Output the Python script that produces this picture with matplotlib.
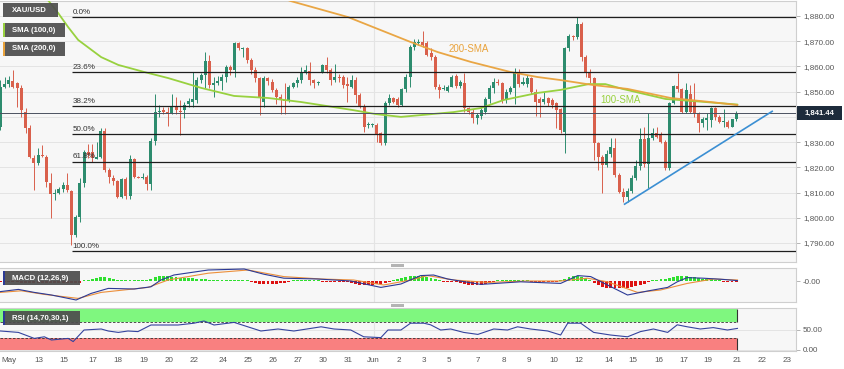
import numpy as np
import matplotlib
matplotlib.use("Agg")
import matplotlib.pyplot as plt
from matplotlib.patches import Rectangle, FancyBboxPatch

plt.rcParams['font.family'] = ['Liberation Sans', 'DejaVu Sans']

# ── 4H XAU/USD candles ──────────────────────────────────────────────────────
open_ = [1836.1, 1852.0, 1852.9, 1854.2, 1853.3, 1851.3, 1842.1, 1835.5, 1823.8, 1821.6, 1825.0, 1824.2, 1813.7, 1809.3, 1810.0, 1811.3, 1813.0, 1810.6, 1793.2, 1800.2, 1813.7, 1826.2, 1826.2, 1823.3, 1824.2, 1834.4, 1818.9, 1815.9, 1814.6, 1808.4, 1815.4, 1808.6, 1823.3, 1816.3, 1815.9, 1816.0, 1813.3, 1830.4, 1842.1, 1842.9, 1842.1, 1841.4, 1844.0, 1842.3, 1842.7,
         1845.0, 1846.0, 1846.7, 1854.6, 1856.6, 1862.2, 1852.6, 1853.3, 1854.2, 1855.9, 1859.9, 1858.6, 1869.2, 1867.0, 1867.4, 1862.6, 1858.6, 1855.3, 1846.0, 1855.3, 1854.0, 1850.7, 1848.0, 1846.7, 1846.7, 1852.0, 1853.3, 1854.6, 1857.9, 1858.2, 1854.6, 1853.5, 1857.9, 1860.6, 1858.6, 1854.6, 1856.0, 1855.9, 1853.0, 1852.0, 1854.6, 1848.7, 1844.1, 1836.6,
         1836.8, 1836.8, 1833.5, 1829.5, 1845.4, 1847.4, 1847.0, 1844.7, 1850.9, 1855.9, 1867.8, 1869.3, 1869.8, 1869.2, 1865.2, 1863.6, 1852.0, 1851.0, 1850.4, 1852.0, 1856.2, 1852.2, 1853.6, 1843.6, 1842.1, 1839.4, 1840.4, 1842.1, 1846.9, 1851.3, 1854.0, 1853.6, 1846.7, 1850.0, 1851.3, 1857.9, 1853.0, 1853.0, 1855.3, 1850.0, 1847.0, 1846.0, 1847.4, 1846.7,
         1845.4, 1843.0, 1834.0, 1867.2, 1872.1, 1871.6, 1876.8, 1863.9, 1857.9, 1855.3, 1829.5, 1824.2, 1820.9, 1825.3, 1827.5, 1816.9, 1810.3, 1808.4, 1810.6, 1815.6, 1820.5, 1831.1, 1821.3, 1831.5, 1833.7, 1832.8, 1830.2, 1819.6, 1845.4, 1852.2, 1850.9, 1842.1, 1849.1, 1846.0, 1841.4, 1837.4, 1838.8, 1838.8, 1843.4, 1840.1, 1838.1, 1838.1, 1836.1, 1839.0]
high = [1854.6, 1855.9, 1856.4, 1858.6, 1854.0, 1852.6, 1843.4, 1836.8, 1824.9, 1827.5, 1828.9, 1824.9, 1817.6, 1811.3, 1812.3, 1814.0, 1817.6, 1811.0, 1801.0, 1815.9, 1826.9, 1829.1, 1829.1, 1829.9, 1835.7, 1835.7, 1819.6, 1816.9, 1815.0, 1815.9, 1816.0, 1824.9, 1823.8, 1816.6, 1817.6, 1817.0, 1831.5, 1848.9, 1844.7, 1844.0, 1844.0, 1848.9, 1848.0, 1846.7, 1846.0,
        1847.4, 1857.9, 1855.9, 1857.3, 1865.6, 1864.5, 1855.9, 1856.2, 1856.9, 1860.6, 1860.6, 1869.6, 1869.8, 1867.8, 1867.8, 1863.2, 1859.9, 1855.9, 1856.2, 1855.9, 1855.0, 1851.3, 1849.1, 1853.4, 1852.6, 1854.0, 1855.9, 1859.9, 1860.6, 1861.9, 1855.0, 1854.4, 1861.0, 1863.9, 1859.5, 1860.8, 1856.9, 1856.6, 1855.9, 1856.6, 1855.9, 1849.3, 1845.0, 1838.0,
        1837.4, 1837.4, 1834.0, 1846.4, 1849.1, 1848.0, 1848.0, 1851.5, 1857.0, 1868.5, 1870.8, 1871.0, 1874.0, 1870.0, 1867.2, 1864.5, 1853.0, 1852.5, 1852.5, 1856.6, 1857.0, 1854.5, 1857.3, 1844.0, 1843.0, 1841.5, 1843.5, 1848.0, 1852.5, 1855.5, 1855.0, 1854.0, 1851.0, 1852.4, 1859.5, 1858.8, 1855.9, 1856.5, 1856.0, 1851.0, 1848.0, 1850.0, 1848.0, 1847.5,
        1846.0, 1843.5, 1867.8, 1873.0, 1872.6, 1879.7, 1877.5, 1864.5, 1859.0, 1856.0, 1830.0, 1824.8, 1827.0, 1831.5, 1831.5, 1817.6, 1811.7, 1811.7, 1816.9, 1822.9, 1835.5, 1836.1, 1841.4, 1835.5, 1836.1, 1834.1, 1830.8, 1846.0, 1852.6, 1857.5, 1851.3, 1853.3, 1852.6, 1853.3, 1842.1, 1840.1, 1841.4, 1844.0, 1844.0, 1840.7, 1843.0, 1838.8, 1839.0, 1842.5]
low = [1834.8, 1851.3, 1852.0, 1851.3, 1844.0, 1840.1, 1833.5, 1823.6, 1811.0, 1820.9, 1824.0, 1812.3, 1799.8, 1807.0, 1809.3, 1810.3, 1810.3, 1789.2, 1792.5, 1798.5, 1812.3, 1823.6, 1822.2, 1823.3, 1823.6, 1818.3, 1813.7, 1813.0, 1807.7, 1807.7, 1807.5, 1807.5, 1815.6, 1815.6, 1815.4, 1811.0, 1811.0, 1828.9, 1840.1, 1841.0, 1836.5, 1841.0, 1841.0, 1832.8, 1839.4,
       1844.0, 1844.1, 1845.4, 1853.6, 1851.3, 1851.3, 1848.0, 1852.6, 1850.5, 1854.0, 1856.6, 1855.9, 1866.7, 1863.9, 1861.2, 1856.9, 1854.0, 1840.7, 1844.1, 1852.6, 1850.0, 1845.0, 1841.0, 1841.0, 1845.8, 1851.6, 1852.0, 1853.6, 1857.0, 1852.6, 1851.3, 1852.6, 1857.5, 1857.5, 1852.6, 1854.0, 1854.0, 1851.3, 1845.8, 1851.3, 1845.4, 1843.4, 1834.1, 1835.5,
       1836.1, 1830.2, 1828.8, 1828.8, 1844.7, 1845.4, 1844.0, 1844.5, 1850.0, 1851.7, 1866.5, 1868.5, 1867.6, 1864.0, 1862.5, 1851.0, 1847.4, 1850.5, 1850.0, 1851.7, 1851.5, 1851.5, 1842.0, 1841.0, 1837.4, 1837.0, 1839.0, 1841.2, 1845.5, 1849.3, 1852.5, 1845.5, 1845.5, 1849.0, 1845.0, 1852.0, 1852.5, 1852.0, 1849.0, 1840.5, 1840.0, 1845.0, 1844.5, 1843.5,
       1835.5, 1833.5, 1825.5, 1866.0, 1870.5, 1871.0, 1862.0, 1856.0, 1853.5, 1822.9, 1818.9, 1809.7, 1820.2, 1824.2, 1816.3, 1809.7, 1806.4, 1806.4, 1809.7, 1815.0, 1818.9, 1820.2, 1811.7, 1830.8, 1831.5, 1829.5, 1818.9, 1818.9, 1845.1, 1850.0, 1841.7, 1841.4, 1841.4, 1840.1, 1834.1, 1836.1, 1834.8, 1836.1, 1838.8, 1837.4, 1836.1, 1835.5, 1836.1, 1838.5]
close = [1852.0, 1852.9, 1854.6, 1852.0, 1851.3, 1842.7, 1835.5, 1824.2, 1821.6, 1824.9, 1824.4, 1814.3, 1809.3, 1810.0, 1811.3, 1813.0, 1811.0, 1793.2, 1800.2, 1813.7, 1826.2, 1825.0, 1823.6, 1824.2, 1834.4, 1818.9, 1816.3, 1814.6, 1808.4, 1815.4, 1808.6, 1823.3, 1816.3, 1815.9, 1816.3, 1813.3, 1830.4, 1842.1, 1842.5, 1842.1, 1841.0, 1844.0, 1842.7, 1841.8, 1844.7,
         1846.3, 1847.0, 1854.6, 1856.6, 1862.2, 1852.6, 1853.3, 1854.2, 1855.9, 1859.9, 1858.6, 1869.2, 1867.2, 1867.4, 1862.6, 1858.6, 1855.3, 1848.0, 1855.3, 1854.4, 1850.7, 1848.0, 1846.7, 1846.3, 1852.0, 1853.3, 1854.6, 1857.9, 1858.6, 1854.6, 1853.3, 1853.6, 1860.6, 1858.6, 1854.6, 1855.7, 1855.3, 1852.6, 1852.4, 1854.6, 1848.7, 1844.1, 1836.1, 1837.0,
         1836.9, 1833.2, 1829.8, 1845.4, 1847.4, 1846.0, 1844.7, 1850.9, 1855.9, 1867.8, 1869.6, 1869.8, 1868.5, 1864.5, 1863.6, 1852.0, 1850.7, 1851.3, 1852.0, 1855.9, 1852.2, 1853.9, 1843.4, 1842.1, 1839.4, 1840.7, 1842.8, 1846.9, 1851.3, 1853.9, 1853.6, 1846.7, 1850.0, 1851.3, 1857.9, 1853.0, 1854.0, 1855.3, 1850.0, 1846.0, 1845.6, 1847.0, 1845.4, 1844.7,
         1842.8, 1834.8, 1867.2, 1872.1, 1871.6, 1876.8, 1863.9, 1857.9, 1855.3, 1829.5, 1824.2, 1820.9, 1825.3, 1827.9, 1816.9, 1810.3, 1808.4, 1810.6, 1815.6, 1820.5, 1831.1, 1821.3, 1831.5, 1833.7, 1832.2, 1830.2, 1819.6, 1845.4, 1852.2, 1850.9, 1842.1, 1850.7, 1842.1, 1841.4, 1837.4, 1839.0, 1839.4, 1843.4, 1840.1, 1838.1, 1838.2, 1836.1, 1839.0, 1841.44]
last_price = 1841.44

# moving averages, sampled at candle positions
sma100_x = [11.0, 13.8, 16.2, 18.6, 24.1, 28.2, 34.4, 40.1, 48.0, 55.9, 64.0, 71.9, 84.3, 89.8, 95.8, 100.5, 108.4, 114.9, 120.4, 128.5, 134.0, 140.7, 144.7, 148.8, 159.1, 168.6, 176.3]
sma100_y = [1887.1, 1881.2, 1875.6, 1870.5, 1863.7, 1860.6, 1857.8, 1855.4, 1851.5, 1848.3, 1847.5, 1845.9, 1842.7, 1841.1, 1840.0, 1840.7, 1841.9, 1843.5, 1846.7, 1849.5, 1850.7, 1853.0, 1853.0, 1851.1, 1847.1, 1845.9, 1844.9]
sma200_x = [62.3, 69.5, 83.1, 98.1, 104.6, 112.5, 122.0, 128.5, 134.0, 141.9, 150.0, 160.3, 169.8, 176.3]
sma200_y = [1890.3, 1885.9, 1879.6, 1869.7, 1865.7, 1861.8, 1857.8, 1855.8, 1854.6, 1852.6, 1851.1, 1847.5, 1845.9, 1844.7]

# Fibonacci retracement of the May low / June high swing
fib_high, fib_low = 1879.7, 1786.8
fib_ratios = [0.0, 0.236, 0.382, 0.5, 0.618, 1.0]
fib_labels = ["0.0%", "23.6%", "38.2%", "50.0%", "61.8%", "100.0%"]
fib_start = 17.2

# rising support line
trend_x = [149.3, 184.6]
trend_y = [1805.4, 1842.2]

# MACD (12,26,9)
macd_x = [0, 4.3, 8.1, 12.2, 18.1, 21.7, 25.8, 32.0, 36.0, 38.4, 41.5, 49.7, 58.3, 63.0, 67.8, 75.9, 83.8, 91.0, 95.8, 100.5, 103.6, 107.0, 114.9, 124.4, 134.0, 138.1, 141.2, 145.2, 150.0, 154.8, 159.6, 161.9, 164.3, 168.1, 172.2, 176.3]
macd_y = [-5.3, -4.2, -5.7, -7.0, -9.5, -6.2, -3.7, -4.0, -2.9, 0.5, 3.0, 5.5, 6.0, 3.4, 1.4, 1.0, 0.0, -3.2, -1.5, 2.7, 3.0, 1.0, -1.7, -0.4, -1.2, 2.7, 2.2, -2.0, -7.0, -5.0, -3.2, -0.4, 1.7, 1.4, 0.9, 0.2]
signal_x = [0, 5.0, 10.5, 18.6, 24.1, 35.3, 40.1, 49.7, 59.2, 67.8, 76.7, 84.5, 91.7, 98.1, 102.2, 108.4, 116.6, 126.1, 134.0, 140.4, 145.2, 152.4, 157.9, 164.3, 170.5, 176.3]
signal_y = [-5.7, -4.9, -6.7, -8.7, -5.7, -3.2, 0.5, 3.9, 5.5, 2.2, 1.0, 0.5, -2.0, 0.5, 2.7, 0.5, -0.7, 0.0, 0.0, 1.4, -0.4, -5.7, -4.5, -1.2, 1.0, 0.5]
hist = [-0.5, -0.5, -0.5, -0.5, -0.5,
        -0.75, -0.75, -0.75, -0.75, -0.75, -0.75, -0.75, -0.75, -0.75, -0.75, -0.75, -0.75, -0.75, -0.75, -0.75,
        0.5, 0.5, 1, 1.5, 2, 2, 1.5, 1,
        0.5, 0.5, 0.5, 0.5, 0.5, 0.5, 0.5, 0.5, 1,
        2, 2.5, 2.5, 2.5, 2, 2,
        1.5, 1.5, 1.5, 1.5, 1, 1, 1, 0.5,
        0.5, 0.5, 0.5, 0.5, 0.5, 0.5, 0.5, 0.5, 0.5,
        -0.5, -1, -1.5, -1.5, -1.5, -1.5, -1.5, -1, -1, -0.5,
        0.3, 0.3, 0.3, 0.3, 0.3, 0.3, 0.3,
        -0.3, -0.3, -0.3, -0.3, -0.3, -0.3,
        -0.5, -1, -1.5, -2, -2, -2, -2, -1.5, -1.5, -1, -0.5,
        0.5, 1, 1.5,
        2, 2.5, 2.5, 2.5, 2.5, 2, 1.5,
        1, 0.5, -0.5,
        -0.5, -0.5, -0.5, -1,
        -1.5, -2, -2, -2, -2, -1.5, -1, -0.5,
        0.3, 0.3, 0.3, 0.3, 0.3, 0.3, 0.3, 0.3,
        -0.3, -0.3, -0.3, -0.3, -0.3, -0.3, -0.3,
        0.5,
        1, 2, 2.5, 2.5, 2, 1.5, 0.5,
        -1, -2, -3, -3.5, -3.5, -3.5, -3.5, -3.5, -3.5, -3, -2.5, -2, -1.5, -0.5,
        0.5, 0.5, 1, 1, 1.5,
        2, 2.5, 2.5, 2.5, 2, 2,
        1.5, 1, 1, 1, 0.5,
        0.3, -0.25, -0.25, -0.3, -0.3]

# RSI (14)
rsi_x = [0, 4.3, 8.1, 10.5, 12.2, 16.2, 17.4, 20.0, 24.1, 25.8, 28.2, 30.5, 32.9, 36.0, 42.5, 46.3, 48.7, 51.1, 55.9, 62.3, 66.4, 70.2, 76.7, 79.8, 83.8, 86.9, 91.0, 92.7, 95.8, 98.1, 101.3, 102.9, 105.3, 107.7, 110.8, 114.2, 118.0, 121.3, 123.7, 126.8, 130.9, 134.0, 135.7, 138.8, 141.9, 145.9, 150.0, 153.1, 156.2, 159.6, 161.9, 164.3, 167.4, 170.5, 173.9, 176.3]
rsi_y = [47.5, 44, 29, 33, 25, 29, 21, 50, 52.5, 47.5, 44, 47.5, 46, 62.5, 62.5, 67, 72.5, 62.5, 69, 47.5, 52.5, 47.5, 58, 52.5, 50, 33, 31, 50, 50, 67, 67, 63, 50, 52.5, 44, 39, 52.5, 50, 58, 52.5, 47.5, 37.5, 67, 67, 44, 37.5, 33, 46, 52.5, 44, 63, 58, 52.5, 56, 50, 54]

date_pos = [2.0, 9.3, 15.3, 22.2, 28.2, 34.4, 40.3, 46.3, 53.2, 59.2, 65.2, 71.2, 77.1, 83.1, 89.3, 95.3, 101.3, 107.2, 114.2, 120.4, 126.3, 132.3, 138.3, 145.5, 151.4, 157.4, 163.4, 169.3, 176.3, 182.2, 188.2]
date_labels = ["May", "13", "15", "17", "18", "19", "20", "22", "24", "25", "26", "27", "30", "31", "Jun",
               "2", "3", "5", "7", "8", "9", "10", "12", "14", "15", "16", "17", "19", "21", "22", "23"]
price_ticks = [1790, 1800, 1810, 1820, 1830, 1840, 1850, 1860, 1870, 1880]
month_line = 89.3

# ── styling ──────────────────────────────────────────────────────────────────
GREEN = '#2d8c6e'
RED = '#d9604c'
BG = '#f7f7f7'
GRID = '#e4e4e4'
SPINE = '#cfcfcf'
TXT = '#555555'
FS = 5.8

W, H = 845, 369
fig = plt.figure(figsize=(W / 100, H / 100), dpi=100, facecolor='white')


def frect(x0, y0, x1, y1):
    """pixel box (top-left origin) -> figure fraction rect"""
    return [x0 / W, 1 - y1 / H, (x1 - x0) / W, (y1 - y0) / H]


ax = fig.add_axes(frect(0, 1, 796, 262))
axm = fig.add_axes(frect(0, 268, 796, 302), sharex=ax)
axr = fig.add_axes(frect(0, 308, 796, 351), sharex=ax)
XMIN, XMAX = -0.1, 190.3

for a in (ax, axm, axr):
    a.set_facecolor(BG)
    for s in a.spines.values():
        s.set_color(SPINE)
        s.set_linewidth(0.8)
    a.spines['left'].set_visible(False)
    a.yaxis.tick_right()
    a.tick_params(axis='y', labelsize=FS, labelcolor=TXT, color='#aaaaaa', length=3, width=0.6, pad=2)
    a.tick_params(axis='x', length=0)
    a.axvline(month_line, color=GRID, lw=0.8, zorder=0)
    a.set_xlim(XMIN, XMAX)

# ── price panel ──────────────────────────────────────────────────────────────
o, h, l, c = map(np.array, (open_, high, low, close))
idx = np.arange(len(c))
up = c >= o
cols = np.where(up, GREEN, RED)
ax.vlines(idx, l, h, colors=cols, lw=0.7, zorder=2)
body_lo = np.minimum(o, c)
body_h = np.maximum(np.abs(c - o), 0.3)
ax.bar(idx, body_h, bottom=body_lo, width=0.72, color=cols, linewidth=0, zorder=2)

ax.plot(sma100_x, sma100_y, color='#98d13f', lw=1.3, zorder=3, solid_capstyle='round')
ax.plot(sma200_x, sma200_y, color='#e9a23b', lw=1.3, alpha=0.95, zorder=3, solid_capstyle='round')

for r, lab in zip(fib_ratios, fib_labels):
    lvl = fib_high - r * (fib_high - fib_low)
    ax.hlines(lvl, fib_start, XMAX, color='#1e1e1e', lw=0.9, zorder=4)
    ax.text(fib_start, lvl + 0.5, lab, fontsize=FS, color='#333333', va='bottom', ha='left', zorder=4)

ax.axhline(last_price, color='#4b5160', lw=0.7, zorder=4)
ax.plot(trend_x, trend_y, color='#3b8fd3', lw=1.2, zorder=5)

ax.text(112.0, 1866.9, "200-SMA", fontsize=7, color='#e9a23b', ha='center', va='center', zorder=5)
ax.text(148.3, 1846.6, "100-SMA", fontsize=7, color='#98d13f', ha='center', va='center', zorder=5)

ax.set_ylim(1782.46, 1885.95)
ax.set_yticks(price_ticks)
# the 1,840 label sits under the last-price tag, so it is left blank
ax.set_yticklabels(["" if v == 1840 else f"{v:,.2f}" for v in price_ticks])
ax.grid(axis='y', color=GRID, lw=0.7, zorder=0)
ax.tick_params(axis='x', labelbottom=False)

# last-price tag on the right axis
tag_y = (1 - (last_price - 1782.46) / (1885.95 - 1782.46)) * (262 - 1) + 1
fig.patches.append(Rectangle((797 / W, 1 - (tag_y + 7) / H), 45 / W, 14 / H,
                             transform=fig.transFigure, fc='#1d2b3b', ec='none', zorder=20))
fig.text(819.5 / W, 1 - tag_y / H, "1,841.44", fontsize=5.6, fontweight='bold', color='white',
         ha='center', va='center', zorder=21)

# ── MACD panel ───────────────────────────────────────────────────────────────
hv = np.array(hist)
axm.bar(np.arange(len(hv)), hv, width=0.7, color=np.where(hv >= 0, '#2fe02f', '#dd1212'), linewidth=0, zorder=2)
axm.plot(signal_x, signal_y, color='#ec8f3a', lw=0.8, zorder=3)
axm.plot(macd_x, macd_y, color='#2c3a96', lw=0.8, zorder=3)
axm.set_ylim(-10.5, 6.5)
axm.set_yticks([0])
axm.set_yticklabels(["-0.00"])
axm.tick_params(axis='x', labelbottom=False)

# ── RSI panel ────────────────────────────────────────────────────────────────
band_end = 176.3
axr.fill_between([XMIN, band_end], 70, 102.5, color='#7ff77f', lw=0, zorder=1)
axr.fill_between([XMIN, band_end], 0, 30, color='#f98080', lw=0, zorder=1)
axr.vlines([band_end, band_end], [0, 70], [30, 102.5], color='#333333', lw=0.8, zorder=2)
axr.hlines([70, 30], XMIN, band_end, colors='#333333', linestyles=(0, (3, 2)), lw=0.6, zorder=2)
axr.plot(rsi_x, rsi_y, color='#34439e', lw=0.8, zorder=3)
axr.set_ylim(-2.5, 105)
axr.set_yticks([0, 50])
axr.set_yticklabels(["0.00", "50.00"])
axr.grid(axis='y', color=GRID, lw=0.7, zorder=0)
axr.set_xticks(date_pos)
axr.set_xticklabels(date_labels)
axr.tick_params(axis='x', labelsize=FS, labelcolor=TXT, pad=4)
axr.set_xlim(XMIN, XMAX)

# ── legend boxes & panel handles (pixel positioned) ─────────────────────────
def label_box(x0, y0, x1, y1, text, stripe=None):
    fig.patches.append(Rectangle((x0 / W, 1 - y1 / H), (x1 - x0) / W, (y1 - y0) / H,
                                 transform=fig.transFigure, fc='#4e4e4e', ec='none', alpha=0.93, zorder=20))
    if stripe:
        fig.patches.append(Rectangle((x0 / W, 1 - y1 / H), 2 / W, (y1 - y0) / H,
                                     transform=fig.transFigure, fc=stripe, ec='none', zorder=21))
    fig.text((x0 + 9) / W, 1 - (y0 + y1) / 2 / H, text, fontsize=5.6, fontweight='bold',
             color='white', va='center', ha='left', zorder=22)


label_box(3, 3, 58, 17, "XAU/USD")
label_box(3, 23, 65, 37, "SMA (100,0)", '#98d13f')
label_box(3, 42, 65, 56, "SMA (200,0)", '#e9a23b')
label_box(3, 271, 80, 285, "MACD (12,26,9)", '#2c3a96')
label_box(3, 311, 80, 325, "RSI (14,70,30,1)", '#2c3a96')

for yy in (264, 304):
    fig.patches.append(FancyBboxPatch((391 / W, 1 - (yy + 3) / H), 13 / W, 3 / H,
                                      boxstyle='round,pad=0', transform=fig.transFigure,
                                      fc='#b4b4b4', ec='none'))

fig.savefig("out.png", dpi=100, facecolor='white')
